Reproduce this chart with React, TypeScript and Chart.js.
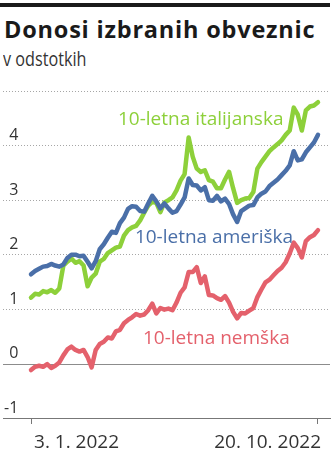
import React, { useEffect, useRef } from 'react';
import { Chart, registerables } from 'chart.js';

Chart.register(...registerables);

const titleText = 'Donosi izbranih obveznic';
const subtitleText = 'v odstotkih';
const xTickLabels = ['3. 1. 2022', '20. 10. 2022'];
const yMin = -1;
const yMax = 5;

const seriesNames = ['10-letna ameriška', '10-letna italijanska', '10-letna nemška'];
const seriesColors = ['#4a6fa8', '#8dd03a', '#e4616c'];

const usYields = [
  1.64, 1.7, 1.74, 1.78, 1.79, 1.83, 1.8, 1.78, 1.82, 1.94,
  2.0, 2.0, 1.97, 1.98, 1.87, 1.75, 1.88, 2.1, 2.19, 2.31,
  2.42, 2.4, 2.58, 2.68, 2.84, 2.89, 2.88, 2.8, 2.79, 2.94,
  3.08, 2.98, 2.85, 2.94, 2.85, 2.77, 2.8, 2.92, 3.05, 3.4,
  3.28, 3.27, 3.18, 3.24, 3.0, 2.99, 3.08, 2.98, 3.03, 2.93,
  2.74, 2.6, 2.8, 2.85, 2.9, 2.91, 3.05, 3.12, 3.16, 3.26,
  3.32, 3.38, 3.46, 3.54, 3.64, 3.9, 3.73, 3.75, 3.88, 3.97,
  4.06, 4.2,
];

const itYields = [
  1.21, 1.28, 1.27, 1.33, 1.31, 1.35, 1.3, 1.38, 1.8, 1.87,
  1.93, 1.85, 1.88, 1.8, 1.42, 1.58, 1.65, 1.87, 1.92, 2.03,
  2.08, 2.13, 2.15, 2.35, 2.45, 2.5, 2.53, 2.63, 2.77, 2.9,
  2.97, 2.95, 2.78, 2.96, 3.0, 3.05, 3.18, 3.36, 3.48, 4.15,
  3.8, 3.58, 3.52, 3.55, 3.37, 3.34, 3.22, 3.22, 3.38, 3.52,
  3.22, 2.95, 3.0, 3.03, 3.04, 3.15, 3.58, 3.7, 3.8, 3.9,
  3.97, 4.03, 4.1, 4.2, 4.28, 4.7, 4.57, 4.28, 4.65, 4.72,
  4.74, 4.8,
];

const deYields = [
  -0.12, -0.06, -0.04, -0.06, -0.01, -0.08, -0.04, 0.02, 0.15, 0.26,
  0.31, 0.25, 0.22, 0.25, 0.12, -0.07, 0.25, 0.36, 0.4, 0.48,
  0.46, 0.59, 0.62, 0.74, 0.8, 0.85, 0.91, 0.88, 0.9, 0.98,
  1.1, 0.92, 1.02, 0.99, 1.01, 0.98, 1.12, 1.3, 1.4, 1.68,
  1.68, 1.77, 1.48, 1.6, 1.26, 1.25, 1.2, 1.17, 1.24, 1.12,
  0.95, 0.83, 0.93, 0.92, 0.97, 1.02, 1.22, 1.36, 1.49, 1.54,
  1.62, 1.7, 1.76, 1.86, 2.02, 2.22, 2.12, 1.95, 2.25, 2.32,
  2.36, 2.45,
];

// where each series name is written: [x index, y value of text baseline]
const labelIndex = [25.7, 21.5, 27.7];
const labelValue = [2.21, 4.38, 0.36];

const FONT = '"Open Sans", sans-serif';

const toPoints = (arr: number[]) => arr.map((v, i) => ({ x: i, y: v }));

export default function App() {
  const canvasRef = useRef<HTMLCanvasElement | null>(null);

  useEffect(() => {
    if (!canvasRef.current) return;
    const lastIndex = usYields.length - 1;

    const zeroLine = {
      id: 'zeroLine',
      beforeDatasetsDraw(chart: any) {
        const { ctx, chartArea, scales } = chart;
        const y = Math.round(scales.y.getPixelForValue(0)) + 0.5;
        ctx.save();
        ctx.strokeStyle = '#8c8c8c';
        ctx.lineWidth = 1;
        ctx.beginPath();
        ctx.moveTo(chartArea.left, y);
        ctx.lineTo(chartArea.right, y);
        ctx.stroke();
        ctx.restore();
      },
    };

    const seriesLabels = {
      id: 'seriesLabels',
      afterDatasetsDraw(chart: any) {
        const { ctx, scales } = chart;
        ctx.save();
        ctx.font = `19px ${FONT}`;
        ctx.textAlign = 'left';
        ctx.textBaseline = 'alphabetic';
        seriesNames.forEach((name, k) => {
          ctx.fillStyle = seriesColors[k];
          ctx.fillText(
            name,
            scales.x.getPixelForValue(labelIndex[k]),
            scales.y.getPixelForValue(labelValue[k])
          );
        });
        ctx.restore();
      },
    };

    const chart = new Chart(canvasRef.current, {
      type: 'line',
      data: {
        datasets: [
          { label: seriesNames[0], data: toPoints(usYields), borderColor: seriesColors[0], order: 0 },
          { label: seriesNames[1], data: toPoints(itYields), borderColor: seriesColors[1], order: 1 },
          { label: seriesNames[2], data: toPoints(deYields), borderColor: seriesColors[2], order: 2 },
        ].map((d) => ({
          ...d,
          borderWidth: 4.5,
          pointRadius: 0,
          pointHoverRadius: 0,
          tension: 0,
          fill: false,
          borderJoinStyle: 'round' as const,
          borderCapStyle: 'round' as const,
        })),
      },
      options: {
        animation: false,
        responsive: false,
        events: [],
        layout: { padding: { top: 11.3, right: 5, left: 0, bottom: 0 } },
        plugins: {
          legend: { display: false },
          tooltip: { enabled: false },
          title: { display: false },
        },
        scales: {
          x: {
            type: 'linear',
            min: -6.93,
            max: lastIndex + 2.97,
            afterBuildTicks: (scale: any) => {
              scale.ticks = [{ value: 0 }, { value: lastIndex }];
            },
            afterFit: (scale: any) => {
              scale.height = 37;
            },
            grid: {
              display: true,
              drawOnChartArea: false,
              drawTicks: true,
              tickLength: 6,
              tickColor: '#777777',
              tickWidth: 1,
            },
            border: { display: true, color: '#777777', width: 1 },
            ticks: {
              autoSkip: false,
              maxRotation: 0,
              align: 'inner',
              labelOffset: 3,
              padding: 7,
              color: '#333333',
              font: { family: FONT, size: 19 },
              callback: (_v: any, i: number) => xTickLabels[i],
            },
          },
          y: {
            type: 'linear',
            min: yMin,
            max: yMax,
            afterFit: (scale: any) => {
              scale.width = 3;
            },
            grid: {
              drawTicks: false,
              lineWidth: 1,
              color: (ctx: any) =>
                ctx.tick && (ctx.tick.value === 0 || ctx.tick.value === yMin)
                  ? 'rgba(0,0,0,0)'
                  : '#a6a6a6',
            },
            border: { display: false, dash: [1, 2] },
            ticks: {
              stepSize: 1,
              mirror: true,
              crossAlign: 'far',
              padding: 1,
              labelOffset: -10,
              color: '#333333',
              font: { family: FONT, size: 16 },
              callback: (v: any) => (v === yMax ? '' : String(v)),
            },
          },
        },
      } as any,
      plugins: [zeroLine, seriesLabels],
    });

    return () => chart.destroy();
  }, []);

  return (
    <div
      style={{
        position: 'absolute',
        left: 0,
        top: 0,
        width: 335,
        height: 455,
        background: '#ffffff',
        fontFamily: FONT,
        color: '#1a1a1a',
        overflow: 'hidden',
      }}
    >
      <div style={{ position: 'absolute', left: 0, top: 3, width: 330, height: 4, background: '#1a1a1a' }} />
      <div
        style={{
          position: 'absolute',
          left: 4,
          top: 14,
          fontSize: 23.5,
          lineHeight: '30px',
          fontWeight: 700,
          letterSpacing: 0.8,
          whiteSpace: 'nowrap',
        }}
      >
        {titleText}
      </div>
      <div
        style={{
          position: 'absolute',
          left: 3,
          top: 46,
          fontSize: 19.5,
          lineHeight: '26px',
          color: '#333333',
          whiteSpace: 'nowrap',
          transform: 'scaleX(0.83)',
          transformOrigin: 'left top',
        }}
      >
        {subtitleText}
      </div>
      <div style={{ position: 'absolute', left: 0, top: 80, width: 335, height: 375 }}>
        <canvas ref={canvasRef} width={335} height={375} />
      </div>
    </div>
  );
}
